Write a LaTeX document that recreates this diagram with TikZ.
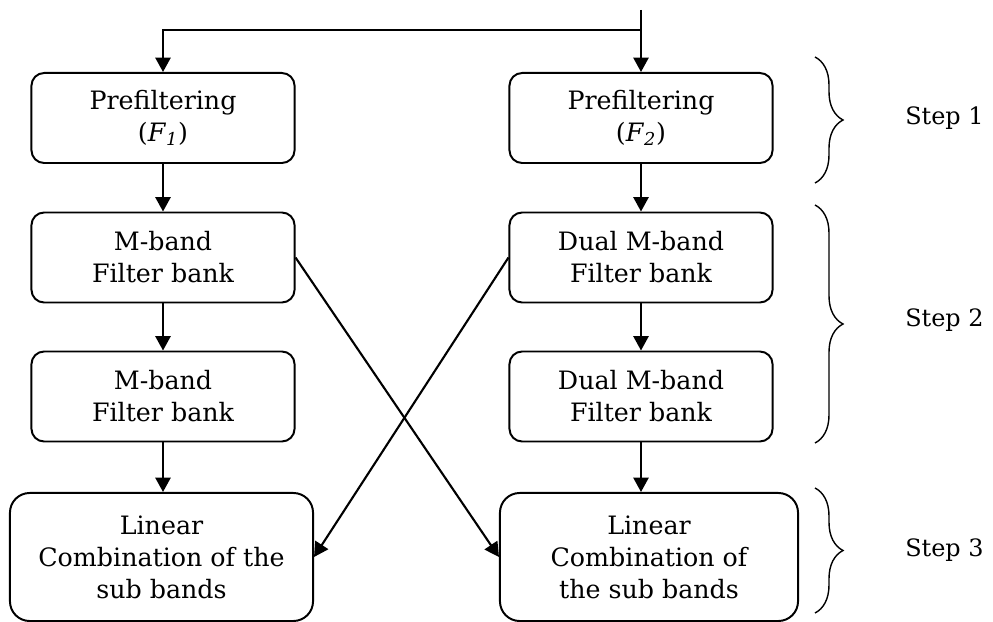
\documentclass[tikz,border=0pt]{standalone}
\usepackage{fontspec}
\setmainfont{DejaVu Serif}
\usetikzlibrary{arrows.meta}
\usetikzlibrary{decorations.pathreplacing}

\begin{document}
\begin{tikzpicture}[x=0.025cm,y=-0.025cm]
  \tikzset{box/.style = {draw, line width=1.4pt, rounded corners=9pt, align=center,
      minimum width=6.575cm, minimum height=2.25cm, inner sep=0pt,
      font=\fontsize{18}{22.7}\selectfont},
    lcbox/.style = {box, rounded corners=14pt, minimum height=3.2cm},
    fleche/.style = {line width=1.5pt, -{Triangle[length=3.6mm,width=3.8mm]}},
    accolade/.style = {decorate, decoration={brace, amplitude=0.7cm}, line width=1pt},
    etape/.style = {anchor=west, inner sep=0pt, font=\fontsize{17}{22.7}\selectfont}}
  \useasboundingbox (0,0) rectangle (993,622);

  % left branch
  \node[box] (pre1) at (163,118) {Prefiltering\\(\textit{F}\textsubscript{\textit{1}})};
  \node[box] (mb1) at (163,257.5) {M-band\\Filter bank};
  \node[box] (mbb1) at (163,396.5) {M-band\\Filter bank};
  \node[lcbox, minimum width=7.575cm] (lc1) at (161.5,557) {Linear\\Combination of the\\sub bands};

  % right branch
  \node[box] (pre2) at (641,118) {Prefiltering\\(\textit{F}\textsubscript{\textit{2}})};
  \node[box] (mb2) at (641,257.5) {Dual M-band\\Filter bank};
  \node[box] (mbb2) at (641,396.5) {Dual M-band\\Filter bank};
  \node[lcbox, minimum width=7.45cm] (lc2) at (649,557) {Linear\\Combination of\\the sub bands};

  % input
  \coordinate (entree) at (641,10);
  \coordinate (split) at (641,30);
  \draw[fleche] (entree) -- (pre2);
  \draw[fleche] (split) -| (pre1);

  \draw[fleche] (pre1) -- (mb1);
  \draw[fleche] (mb1) -- (mbb1);
  \draw[fleche] (mbb1.south) -- (mbb1.south |- lc1.north);
  \draw[fleche] (pre2) -- (mb2);
  \draw[fleche] (mb2) -- (mbb2);
  \draw[fleche] (mbb2.south) -- (mbb2.south |- lc2.north);

  % crossing
  \draw[fleche] (mb1.east) -- (lc2.west);
  \draw[fleche] (mb2.west) -- (lc1.east);

  % steps
  \draw[accolade] (815,57) -- (815,183);
  \draw[accolade] (815,205) -- (815,443);
  \draw[accolade] (815,488) -- (815,613);
  \node[etape] (step1) at (905,118) {Step 1};
  \node[etape] (step2) at (905,320) {Step 2};
  \node[etape] (step3) at (905,550) {Step 3};
\end{tikzpicture}
\end{document}
